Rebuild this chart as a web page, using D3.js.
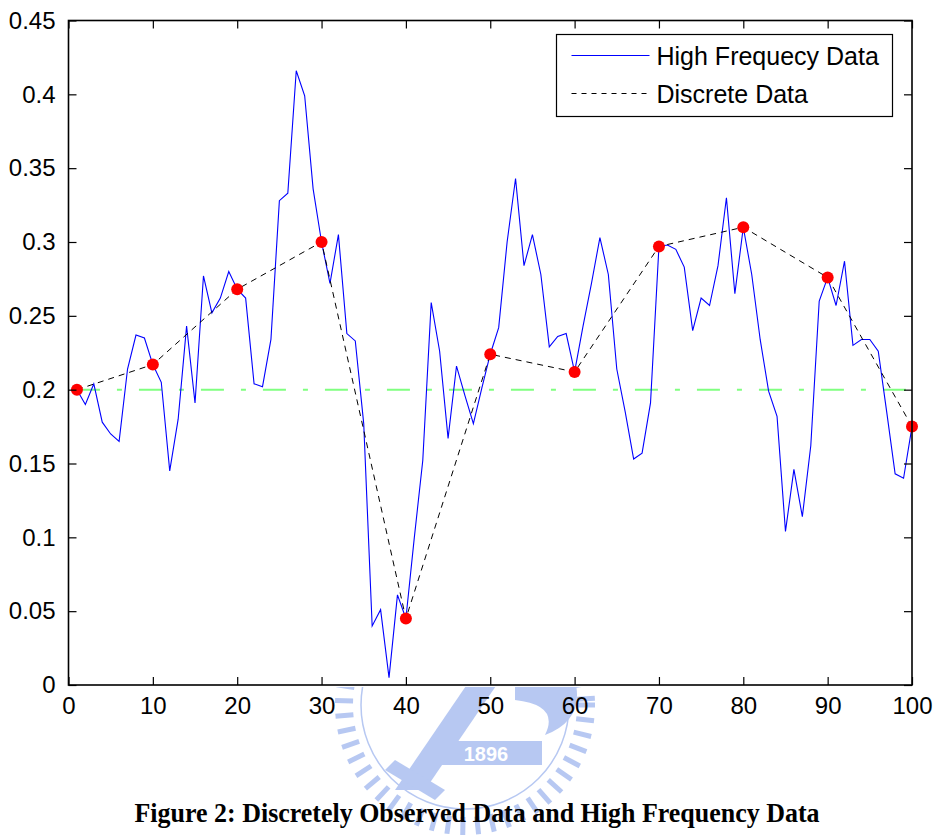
<!DOCTYPE html>
<html>
<head>
<meta charset="utf-8">
<script src="https://cdn.jsdelivr.net/npm/d3@7"></script>
<style>
  body { margin: 0; background: #fff; }
</style>
</head>
<body>
<div id="chart"></div>
<script>
////////////////////////////////////////////////////////////////////////
// Data

// high frequency path, one value per step t = 1..100
let highFreq = [
  0.200, 0.190, 0.204, 0.178, 0.170, 0.165, 0.214, 0.237, 0.235, 0.217,
  0.205, 0.145, 0.180, 0.243, 0.191, 0.277, 0.252, 0.262, 0.280, 0.268,
  0.262, 0.204, 0.202, 0.234, 0.328, 0.333, 0.416, 0.399, 0.336, 0.300,
  0.272, 0.305, 0.238, 0.233, 0.177, 0.040, 0.051, 0.005, 0.061, 0.045,
  0.100, 0.152, 0.259, 0.226, 0.167, 0.216, 0.196, 0.177, 0.201, 0.224,
  0.242, 0.300, 0.343, 0.284, 0.305, 0.278, 0.229, 0.236, 0.238, 0.212,
  0.243, 0.272, 0.303, 0.278, 0.214, 0.185, 0.153, 0.157, 0.191, 0.297,
  0.298, 0.295, 0.283, 0.240, 0.262, 0.257, 0.284, 0.330, 0.265, 0.310,
  0.278, 0.234, 0.199, 0.182, 0.104, 0.146, 0.114, 0.162, 0.260, 0.276,
  0.257, 0.287, 0.230, 0.234, 0.234, 0.226, 0.185, 0.143, 0.140, 0.175
];

// discrete observations
let discreteT = [1, 10, 20, 30, 40, 50, 60, 70, 80, 90, 100];
let discreteV = [0.200, 0.217, 0.268, 0.300, 0.045, 0.224, 0.212, 0.297, 0.310, 0.276, 0.175];

// long run mean
let meanLevel = 0.2;

let xTicks = [0, 10, 20, 30, 40, 50, 60, 70, 80, 90, 100];
let yTicks = [0, 0.05, 0.1, 0.15, 0.2, 0.25, 0.3, 0.35, 0.4, 0.45];
let yTickLabels = ["0", "0.05", "0.1", "0.15", "0.2", "0.25", "0.3", "0.35", "0.4", "0.45"];

let legendLabels = ["High Frequecy Data", "Discrete Data"];
let caption = "Figure 2: Discretely Observed Data and High Frequency Data";
let watermarkYear = "1896";

////////////////////////////////////////////////////////////////////////
// Setup

let width = 937, height = 838;
let plotLeft = 68.5, plotRight = 912, plotTop = 20.5, plotBottom = 685;
let sansFont = "'Liberation Sans', Arial, Helvetica, sans-serif";

let xScale = d3.scaleLinear().domain([0, 100]).range([plotLeft, plotRight]);
let yScale = d3.scaleLinear().domain([0, 0.45]).range([plotBottom, plotTop]);

let svg = d3.select("#chart")
  .append("svg")
  .attr("width", width)
  .attr("height", height);

svg.append("rect").attr("width", width).attr("height", height).attr("fill", "#fff");

////////////////////////////////////////////////////////////////////////
// faint university watermark behind the lower part of the page

let wm = svg.append("g").attr("opacity", 0.75);
let wmColor = "#9fb6ee";
let wmCx = 465, wmCy = 705;

wm.append("clipPath").attr("id", "wmclip")
  .append("rect").attr("x", 0).attr("y", plotBottom + 2).attr("width", width).attr("height", height);

let wmBody = wm.append("g").attr("clip-path", "url(#wmclip)");

// ring of short radial strokes
d3.range(0, 360, 7).forEach(function(a) {
  let r = a * Math.PI / 180;
  wmBody.append("line")
    .attr("x1", wmCx + 112 * Math.cos(r)).attr("y1", wmCy + 112 * Math.sin(r))
    .attr("x2", wmCx + 130 * Math.cos(r)).attr("y2", wmCy + 130 * Math.sin(r))
    .attr("stroke", wmColor).attr("stroke-width", 5);
});

wmBody.append("circle")
  .attr("cx", wmCx).attr("cy", wmCy).attr("r", 104)
  .attr("fill", "none").attr("stroke", wmColor).attr("stroke-width", 1.5);

// sword blade
wmBody.append("path")
  .attr("d", "M470,680 L500,680 L425,790 L395,790 Z")
  .attr("fill", wmColor);
wmBody.append("path")
  .attr("d", "M395,760 L445,790 L435,800 L385,770 Z")
  .attr("fill", wmColor);

// right crest
wmBody.append("path")
  .attr("d", "M515,680 L575,680 Q585,720 545,735 Q560,705 515,700 Z")
  .attr("fill", wmColor);

// year banner
wmBody.append("rect")
  .attr("x", 430).attr("y", 741).attr("width", 112).attr("height", 24)
  .attr("fill", wmColor);
wmBody.append("text")
  .attr("x", 486).attr("y", 761)
  .attr("text-anchor", "middle")
  .style("font-family", sansFont)
  .attr("font-weight", "bold")
  .attr("font-size", 20)
  .attr("fill", "#fff")
  .text(watermarkYear);

let line = d3.line()
  .x(function(d) { return xScale(d[0]); })
  .y(function(d) { return yScale(d[1]); });

////////////////////////////////////////////////////////////////////////
// Series

let hfPoints = highFreq.map(function(v, i) { return [i + 1, v]; });
let discPoints = discreteT.map(function(t, i) { return [t, discreteV[i]]; });

svg.append("path")
  .datum([[1, meanLevel], [100, meanLevel]])
  .attr("d", line)
  .attr("fill", "none")
  .attr("stroke", "#80ff80")
  .attr("stroke-width", 2)
  .attr("stroke-dasharray", "23,17,5,17");

svg.append("path")
  .datum(hfPoints)
  .attr("d", line)
  .attr("fill", "none")
  .attr("stroke", "#0000ff")
  .attr("stroke-width", 1.1);

svg.append("path")
  .datum(discPoints)
  .attr("d", line)
  .attr("fill", "none")
  .attr("stroke", "#000")
  .attr("stroke-width", 1)
  .attr("stroke-dasharray", "6,5");

svg.selectAll("circle.obs")
  .data(discPoints)
  .enter()
  .append("circle")
  .attr("class", "obs")
  .attr("cx", function(d) { return xScale(d[0]); })
  .attr("cy", function(d) { return yScale(d[1]); })
  .attr("r", 6)
  .attr("fill", "#ff0000");

////////////////////////////////////////////////////////////////////////
// Axes (matlab style box, ticks pointing in on every side)

let tickLen = 8;

function styleAxis(g) {
  g.select(".domain").remove();
  g.selectAll("text").attr("font-size", 24).style("font-family", sansFont).attr("fill", "#000");
  g.selectAll("line").attr("stroke-width", 1.2);
}

svg.append("g")
  .attr("transform", "translate(0," + plotBottom + ")")
  .call(d3.axisBottom(xScale).tickValues(xTicks).tickSizeInner(-tickLen).tickSizeOuter(0).tickPadding(12))
  .call(styleAxis);

svg.append("g")
  .attr("transform", "translate(0," + plotTop + ")")
  .call(d3.axisTop(xScale).tickValues(xTicks).tickSizeInner(-tickLen).tickSizeOuter(0).tickFormat(""))
  .call(styleAxis);

svg.append("g")
  .attr("transform", "translate(" + plotLeft + ",0)")
  .call(d3.axisLeft(yScale).tickValues(yTicks).tickSizeInner(-tickLen).tickSizeOuter(0).tickPadding(13)
    .tickFormat(function(d, i) { return yTickLabels[i]; }))
  .call(styleAxis);

svg.append("g")
  .attr("transform", "translate(" + plotRight + ",0)")
  .call(d3.axisRight(yScale).tickValues(yTicks).tickSizeInner(-tickLen).tickSizeOuter(0).tickFormat(""))
  .call(styleAxis);

svg.append("rect")
  .attr("x", plotLeft).attr("y", plotTop)
  .attr("width", plotRight - plotLeft).attr("height", plotBottom - plotTop)
  .attr("fill", "none")
  .attr("stroke", "#000")
  .attr("stroke-width", 1.6);

////////////////////////////////////////////////////////////////////////
// Legend

let legend = svg.append("g").attr("transform", "translate(556.5,34.5)");

legend.append("rect")
  .attr("width", 336).attr("height", 82)
  .attr("fill", "#fff").attr("stroke", "#000").attr("stroke-width", 1.2);

let legendStyles = [
  { stroke: "#0000ff", dash: null },
  { stroke: "#000", dash: "5,5" }
];

legendLabels.forEach(function(label, i) {
  let y = 21 + i * 38;
  legend.append("line")
    .attr("x1", 15).attr("x2", 93)
    .attr("y1", y).attr("y2", y)
    .attr("stroke", legendStyles[i].stroke)
    .attr("stroke-width", 1.1)
    .attr("stroke-dasharray", legendStyles[i].dash);
  legend.append("text")
    .attr("x", 100).attr("y", y + 9)
    .style("font-family", sansFont)
    .attr("font-size", 25)
    .attr("fill", "#000")
    .text(label);
});

////////////////////////////////////////////////////////////////////////
// Caption

svg.append("text")
  .attr("x", 477).attr("y", 822)
  .attr("text-anchor", "middle")
  .style("font-family", "'Liberation Serif', 'Times New Roman', serif")
  .attr("font-weight", "bold")
  .attr("font-size", 28)
  .attr("textLength", 685)
  .attr("lengthAdjust", "spacingAndGlyphs")
  .attr("fill", "#000")
  .text(caption);
</script>
</body>
</html>
